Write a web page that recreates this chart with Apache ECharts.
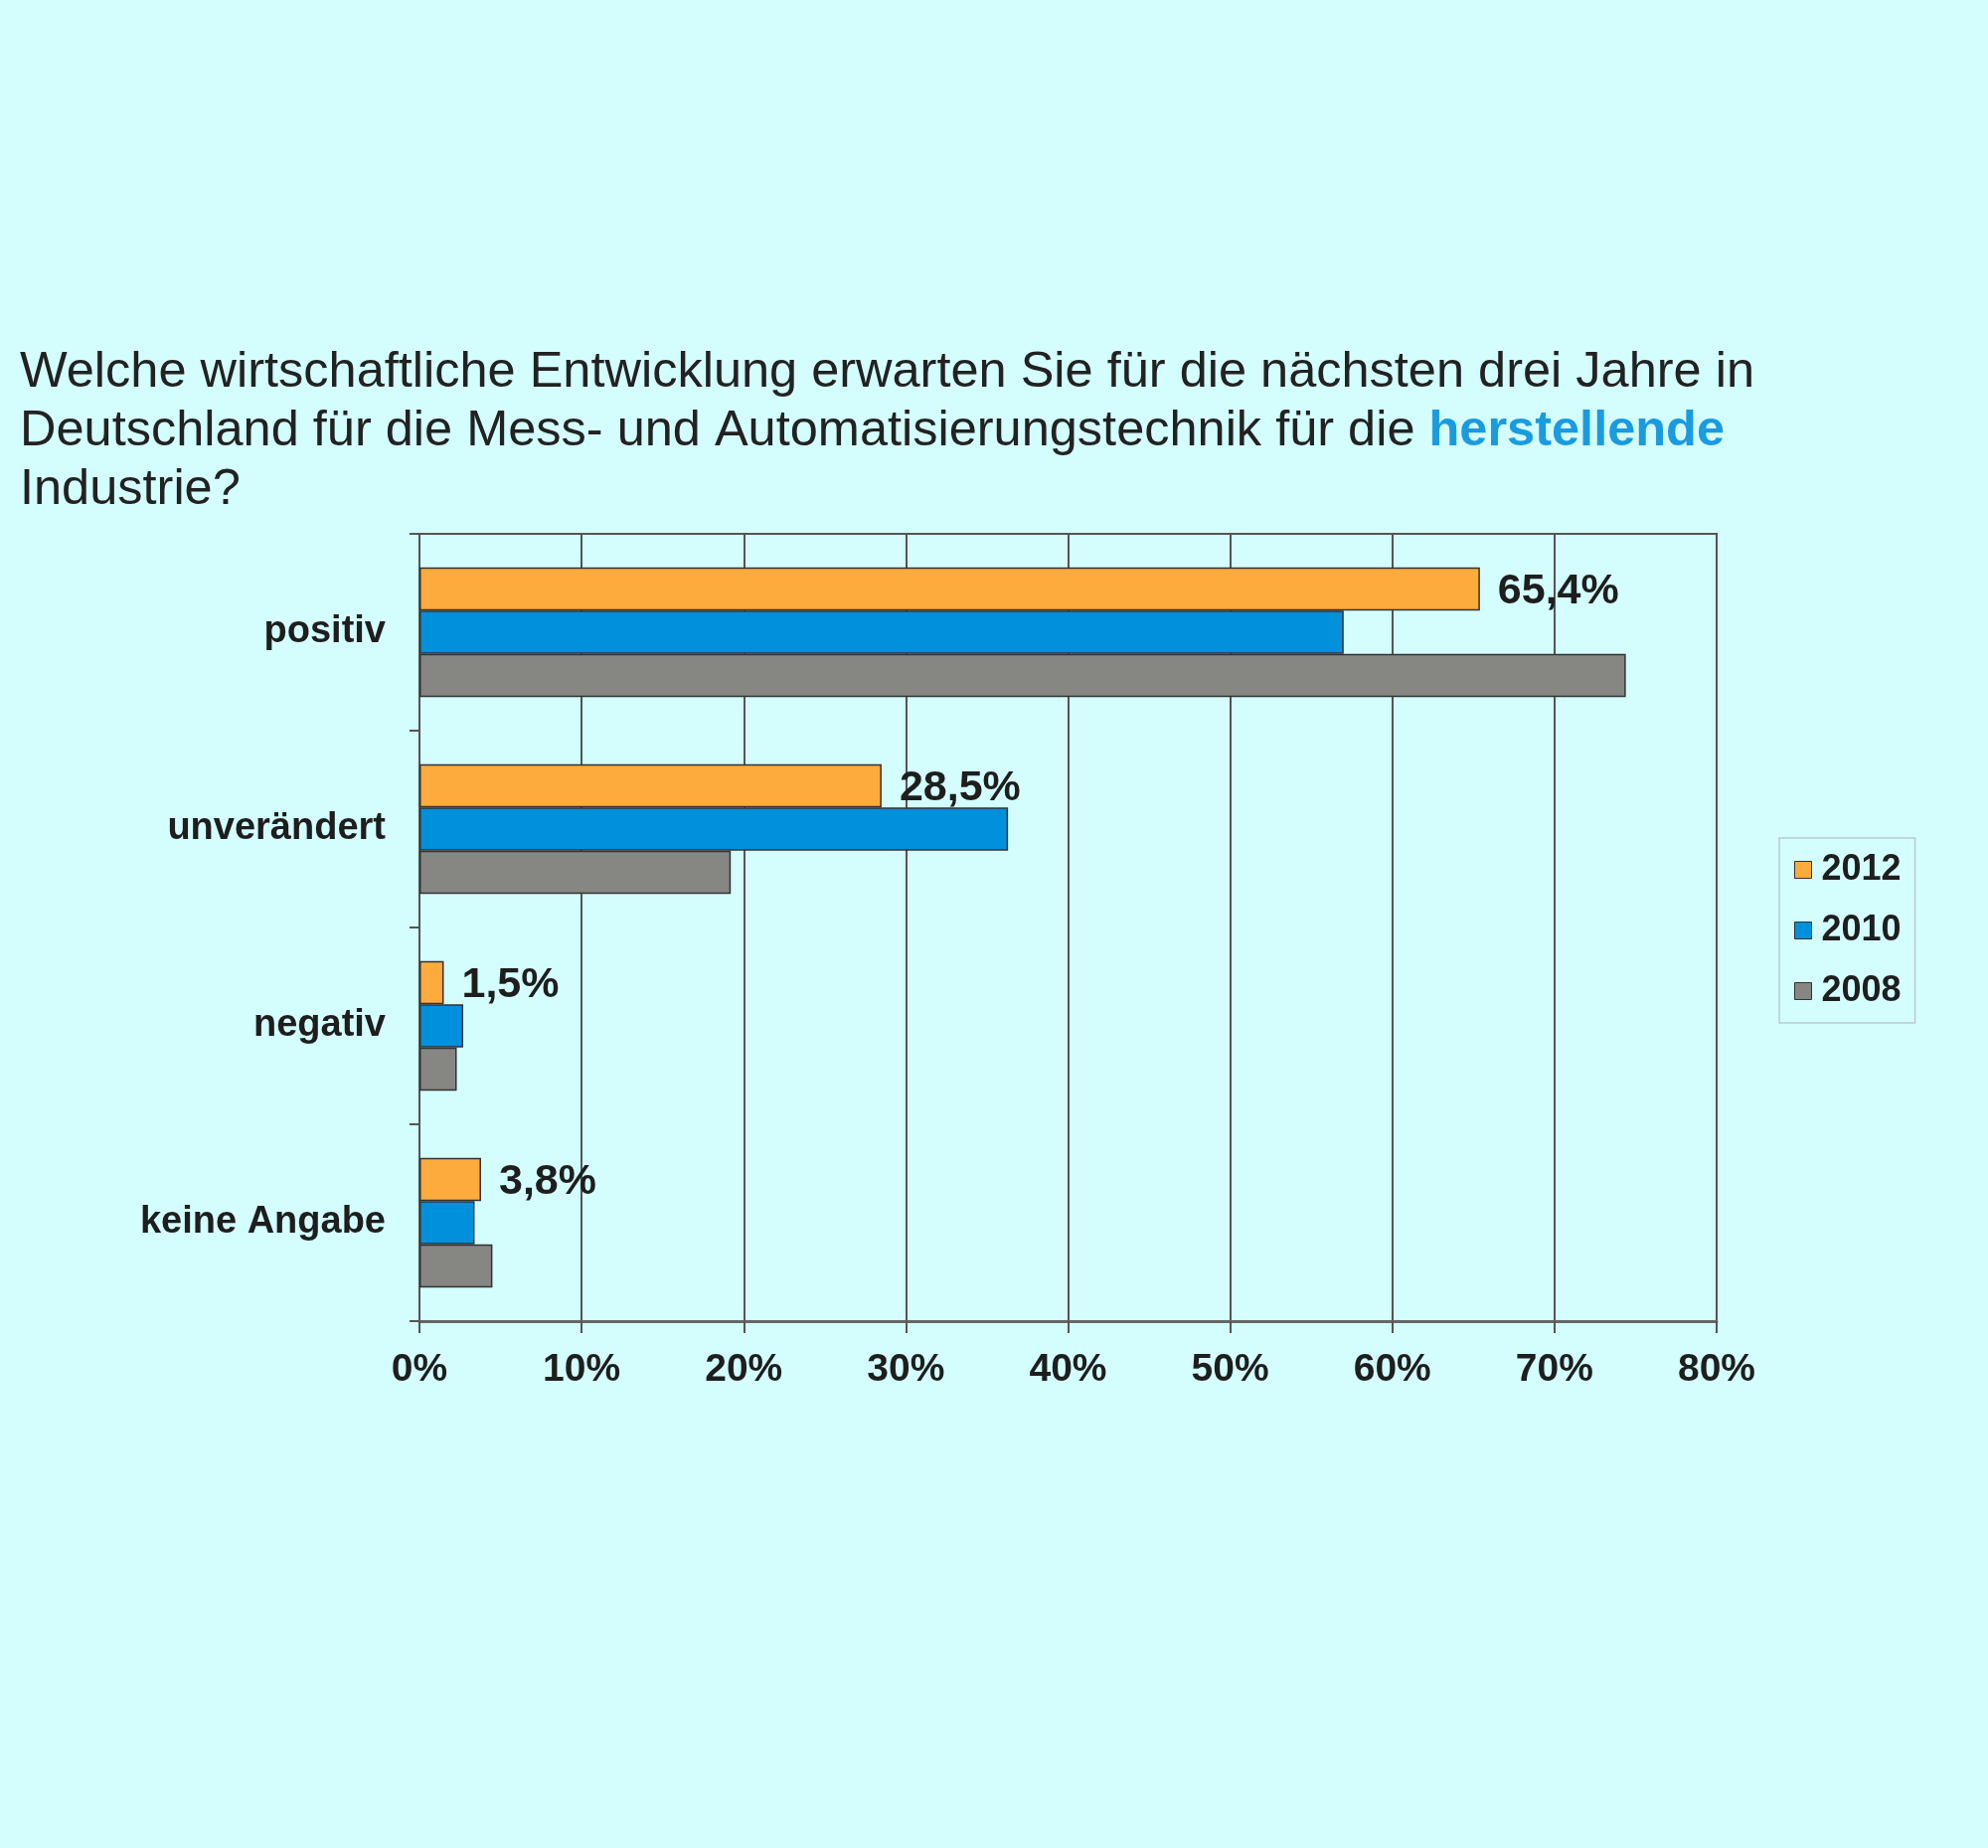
<!DOCTYPE html>
<html>
<head>
<meta charset="utf-8">
<script src="https://cdn.jsdelivr.net/npm/echarts@6/dist/echarts.min.js"></script>
<style>
  html, body { margin: 0; padding: 0; background: #d4fefe; }
  #chart { width: 2000px; height: 1859px; }
</style>
</head>
<body>
<div id="chart"></div>
<script>
  // Kategorien und Werte (in %)
  var categories = ['positiv', 'unverändert', 'negativ', 'keine Angabe'];
  var years = ['2012', '2010', '2008'];
  var values2012 = [65.4, 28.5, 1.5, 3.8];
  var values2010 = [57.0, 36.3, 2.7, 3.4];
  var values2008 = [74.4, 19.2, 2.3, 4.5];
  var xTicks = [0, 10, 20, 30, 40, 50, 60, 70, 80];

  var colors = ['#fdab3c', '#0090dc', '#868683'];
  var font = 'Liberation Sans, Arial, sans-serif';

  var myChart = echarts.init(document.getElementById('chart'));

  function barSeries(name, data, color, withLabel) {
    return {
      name: name,
      type: 'bar',
      data: data,
      barGap: '0%',
      barCategoryGap: '34%',
      itemStyle: { color: color, borderColor: '#333', borderWidth: 1.5 },
      label: {
        show: withLabel,
        position: 'right',
        distance: 18,
        offset: [0, 3],
        fontFamily: font,
        fontWeight: 'bold',
        fontSize: 43,
        color: '#1e1e1e',
        formatter: function (p) {
          return String(p.value).replace('.', ',') + '%';
        }
      }
    };
  }

  myChart.setOption({
    backgroundColor: '#d4fefe',
    animation: false,
    title: {
      left: 15,
      top: 341,
      text: 'Welche wirtschaftliche Entwicklung erwarten Sie für die nächsten drei Jahre in\n' +
            'Deutschland für die Mess- und Automatisierungstechnik für die {b|herstellende}\n' +
            'Industrie?',
      textStyle: {
        fontFamily: font,
        fontWeight: 'normal',
        fontSize: 50.5,
        lineHeight: 59,
        color: '#222',
        rich: {
          b: { fontFamily: font, fontWeight: 'bold', fontSize: 50.5, lineHeight: 59, color: '#1a9be0' }
        }
      }
    },
    legend: {
      orient: 'vertical',
      left: 1790,
      top: 843,
      padding: [14, 14, 14, 15],
      itemGap: 25,
      itemWidth: 17,
      itemHeight: 17,
      icon: 'rect',
      borderColor: '#b9cad2',
      borderWidth: 1.5,
      data: years,
      itemStyle: { borderColor: '#333', borderWidth: 1 },
      textStyle: {
        fontFamily: font, fontWeight: 'bold', fontSize: 36, lineHeight: 36,
        color: '#1e1e1e', padding: [0, 0, 0, 5]
      }
    },
    grid: {
      left: 422,
      right: 273,
      top: 537,
      bottom: 530,
      show: true,
      borderColor: '#555',
      borderWidth: 2,
      containLabel: false
    },
    xAxis: {
      type: 'value',
      min: xTicks[0],
      max: xTicks[xTicks.length - 1],
      interval: 10,
      axisLine: { show: true, lineStyle: { color: '#666', width: 3 } },
      axisTick: { show: true, length: 12, lineStyle: { color: '#555', width: 2 } },
      splitLine: { show: true, lineStyle: { color: '#555', width: 2 } },
      axisLabel: {
        margin: 30,
        fontFamily: font,
        fontWeight: 'bold',
        fontSize: 39,
        color: '#1e1e1e',
        formatter: '{value}%'
      }
    },
    yAxis: {
      type: 'category',
      inverse: true,
      data: categories,
      axisLine: { show: true, lineStyle: { color: '#555', width: 2 } },
      axisTick: { show: true, length: 10, lineStyle: { color: '#555', width: 2 } },
      axisLabel: {
        margin: 34,
        fontFamily: font,
        fontWeight: 'bold',
        fontSize: 38,
        color: '#1e1e1e'
      }
    },
    series: [
      barSeries(years[0], values2012, colors[0], true),
      barSeries(years[1], values2010, colors[1], false),
      barSeries(years[2], values2008, colors[2], false)
    ]
  });
</script>
</body>
</html>
